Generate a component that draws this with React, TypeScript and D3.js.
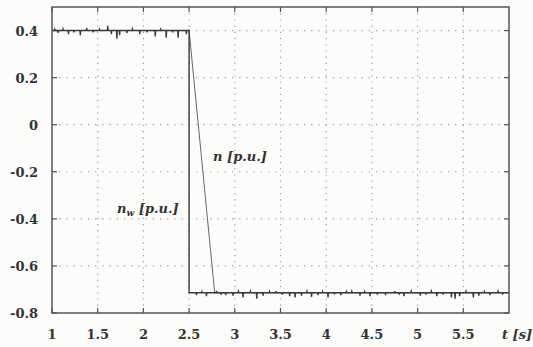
import React from "react";
import * as d3 from "d3";

const xTicks = [1, 1.5, 2, 2.5, 3, 3.5, 4, 4.5, 5, 5.5];
const xTickLabels = ["1", "1.5", "2", "2.5", "3", "3.5", "4", "4.5", "5", "5.5"];
const yTicks = [-0.8, -0.6, -0.4, -0.2, 0, 0.2, 0.4];
const yTickLabels = ["-0.8", "-0.6", "-0.4", "-0.2", "0", "0.2", "0.4"];

const levelHigh = 0.4;
const levelLow = -0.714;
const stepTime = 2.5;
const rampEndTime = 2.78;

// spikes: [time, deviation]
const spikesHigh: [number, number][] = [
  [1.03, 0.005], [1.066, -0.01], [1.12, 0.006], [1.18, -0.015], [1.24, -0.008], [1.31, -0.02],
  [1.38, 0.01], [1.45, -0.008], [1.52, 0.005], [1.61, 0.02], [1.65, -0.015], [1.71, -0.035],
  [1.74, -0.02], [1.82, -0.01], [1.88, 0.006], [1.96, -0.015], [2.04, -0.008], [2.13, -0.025],
  [2.19, 0.005], [2.25, -0.03], [2.32, -0.008], [2.38, -0.03], [2.47, -0.015],
];
const spikesLow: [number, number][] = [
  [2.58, -0.01], [2.64, 0.005], [2.69, -0.015], [2.8, 0.008], [2.85, -0.008], [2.9, -0.01],
  [2.98, -0.012], [3.04, 0.006], [3.09, -0.02], [3.17, 0.006], [3.24, -0.025], [3.31, -0.012],
  [3.38, 0.005], [3.45, 0.007], [3.52, -0.008], [3.6, -0.015], [3.66, -0.02], [3.73, -0.012],
  [3.79, 0.006], [3.84, -0.018], [3.91, -0.01], [3.96, 0.005], [4.02, -0.02], [4.09, -0.007],
  [4.16, -0.01], [4.22, 0.005], [4.28, 0.006], [4.37, -0.012], [4.42, 0.005], [4.48, -0.015],
  [4.56, -0.008], [4.65, -0.01], [4.75, 0.007], [4.8, -0.008], [4.85, -0.015], [4.93, 0.006],
  [5.03, -0.012], [5.09, -0.008], [5.15, 0.006], [5.21, -0.015], [5.28, -0.008], [5.37, -0.02],
  [5.41, -0.025], [5.46, -0.015], [5.53, 0.006], [5.61, -0.02], [5.67, -0.012], [5.73, 0.005],
  [5.79, -0.01], [5.88, 0.006], [5.93, -0.008],
];

const W = 533, H = 347;
const left = 52, right = 509, top = 7, bottom = 313;

export default function App() {
  const x = d3.scaleLinear().domain([1, 6]).range([left, right]);
  const y = d3.scaleLinear().domain([-0.8, 0.5]).range([bottom, top]);

  const eps = 0.004;
  const nwPts: [number, number][] = [];
  nwPts.push([1, levelHigh]);
  spikesHigh.forEach(([t, d]) => {
    nwPts.push([t - eps, levelHigh], [t, levelHigh + d], [t + eps, levelHigh]);
  });
  nwPts.push([stepTime, levelHigh], [stepTime, levelLow]);
  spikesLow.forEach(([t, d]) => {
    nwPts.push([t - eps, levelLow], [t, levelLow + d], [t + eps, levelLow]);
  });
  nwPts.push([6, levelLow]);

  const nPts: [number, number][] = [
    [1, levelHigh], [stepTime, levelHigh], [rampEndTime, levelLow], [6, levelLow],
  ];

  const line = d3.line<[number, number]>().x(d => x(d[0])).y(d => y(d[1]));
  const txt: React.CSSProperties = { fontFamily: "'DejaVu Serif', serif" };

  return (
    <svg width={W} height={H} style={{ position: "absolute", left: 0, top: 0, background: "#fcfcfa" }}>
      <rect x={0} y={0} width={W} height={H} fill="#fcfcfa" />
      {xTicks.slice(1).map(t => (
        <line key={"gx" + t} x1={x(t)} x2={x(t)} y1={top} y2={bottom}
          stroke="#9a9a9a" strokeWidth={1.2} strokeDasharray="1.2,5" />
      ))}
      {yTicks.slice(1).map(t => (
        <line key={"gy" + t} x1={left} x2={right} y1={y(t)} y2={y(t)}
          stroke="#9a9a9a" strokeWidth={1.2} strokeDasharray="1.2,6" />
      ))}
      {xTicks.map(t => (
        <g key={"tx" + t}>
          <line x1={x(t)} x2={x(t)} y1={bottom} y2={bottom - 5} stroke="#555" strokeWidth={1.2} />
          <line x1={x(t)} x2={x(t)} y1={top} y2={top + 5} stroke="#555" strokeWidth={1.2} />
        </g>
      ))}
      {yTicks.map(t => (
        <g key={"ty" + t}>
          <line x1={left} x2={left + 5} y1={y(t)} y2={y(t)} stroke="#555" strokeWidth={1.2} />
          <line x1={right} x2={right - 5} y1={y(t)} y2={y(t)} stroke="#555" strokeWidth={1.2} />
        </g>
      ))}
      <path d={line(nPts) || ""} fill="none" stroke="#666" strokeWidth={1} />
      <path d={line(nwPts) || ""} fill="none" stroke="#3a3a3a" strokeWidth={1.4} />
      <rect x={left} y={top} width={right - left} height={bottom - top} fill="none" stroke="#555" strokeWidth={1.5} />
      {yTicks.map((t, i) => (
        <text key={"ly" + t} x={38} y={y(t) + 5} textAnchor="end" style={txt}
          fontSize={13} fontWeight="bold" fill="#333">{yTickLabels[i]}</text>
      ))}
      {xTicks.map((t, i) => (
        <text key={"lx" + t} x={x(t)} y={339} textAnchor="middle" style={txt}
          fontSize={13} fontWeight="bold" fill="#333">{xTickLabels[i]}</text>
      ))}
      <text x={502} y={339} style={txt} fontSize={13} fontStyle="italic" fontWeight="bold" fill="#333">t [s]</text>
      <text x={213} y={161} style={txt} fontSize={13} fontStyle="italic" fontWeight="bold" fill="#333">n [p.u.]</text>
      <text x={117} y={213} style={txt} fontSize={13} fontStyle="italic" fontWeight="bold" fill="#333">
        n<tspan fontSize={9} dy={3}>w</tspan><tspan dy={-3}> [p.u.]</tspan>
      </text>
    </svg>
  );
}
